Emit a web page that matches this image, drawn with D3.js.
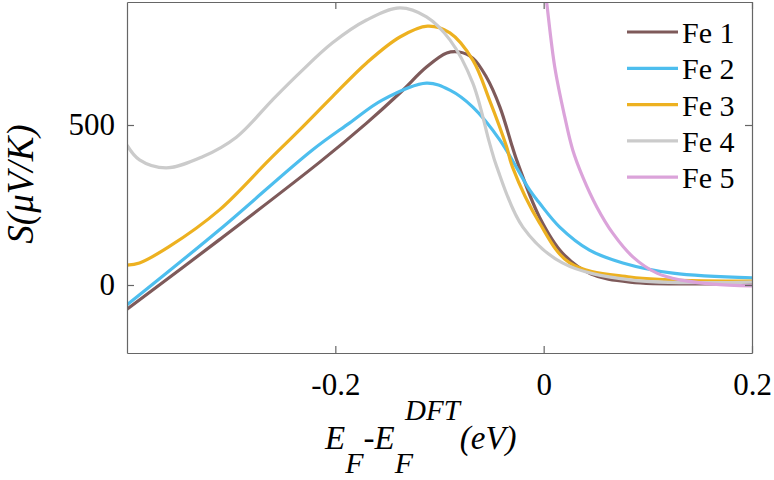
<!DOCTYPE html>
<html>
<head>
<meta charset="utf-8">
<script src="https://cdn.jsdelivr.net/npm/d3@7"></script>
<style>
  body { margin: 0; background: #fff; }
</style>
</head>
<body>
<div id="canvas"></div>
<script>
// [E - E_F^DFT (eV), S (uV/K)]
const fe1 = [[-0.40, -76], [-0.3115, 141], [-0.215, 384], [-0.170, 506], [-0.138, 600], [-0.1125, 681],
  [-0.093, 725], [-0.081, 728], [-0.068, 709], [-0.055, 650], [-0.042, 556], [-0.030, 431],
  [-0.026, 391], [-0.004, 212], [0.018, 100], [0.045, 35], [0.083, 9], [0.20, 6]];
const fe2 = [[-0.40, -62], [-0.3115, 172], [-0.222, 422], [-0.1865, 506], [-0.155, 578], [-0.1125, 631],
  [-0.090, 609], [-0.068, 556], [-0.042, 453], [-0.0135, 297], [-0.004, 256], [0.0154, 181],
  [0.044, 109], [0.076, 69], [0.124, 37], [0.20, 22]];
const fe3 = [[-0.40, 62], [-0.388, 69], [-0.36, 119], [-0.3115, 234], [-0.2635, 391], [-0.2345, 484],
  [-0.203, 588], [-0.170, 694], [-0.138, 775], [-0.1115, 809], [-0.090, 788], [-0.068, 703],
  [-0.052, 578], [-0.0355, 431], [-0.030, 369], [-0.004, 194], [0.025, 69], [0.083, 25], [0.20, 12]];
const fe4 = [[-0.40, 437], [-0.388, 391], [-0.3625, 366], [-0.328, 400], [-0.295, 462], [-0.2605, 578],
  [-0.2345, 662], [-0.203, 756], [-0.170, 828], [-0.138, 866], [-0.1125, 838], [-0.090, 766],
  [-0.068, 631], [-0.052, 444], [-0.045, 369], [-0.020, 181], [0.018, 69], [0.083, 16], [0.20, 9]];
const fe5 = [[0.0, 960], [0.0026, 891], [0.0106, 682], [0.0202, 526], [0.0279, 422], [0.0375, 338],
  [0.051, 244], [0.0663, 162], [0.0856, 88], [0.1087, 37], [0.1308, 16], [0.1625, 3], [0.20, -3]];

const names = ['Fe 1', 'Fe 2', 'Fe 3', 'Fe 4', 'Fe 5'];
const colors = ['#7e5a5a', '#4dbeee', '#edb120', '#cbcbcb', '#dba3da'];
const xTicks = [-0.2, 0, 0.2];
const yTicks = [0, 500];

const W = 774, H = 480;
const serif = '"Liberation Serif"';
const x = d3.scaleLinear().domain([-0.4, 0.2]).range([127, 752]);
const y = d3.scaleLinear().domain([-212.5, 884.4]).range([353, 2]);

const svg = d3.select('#canvas')
  .append('svg')
  .attr('width', W)
  .attr('height', H);

svg.append('clipPath').attr('id', 'clip')
  .append('rect')
  .attr('x', 127).attr('y', 2)
  .attr('width', 752 - 127).attr('height', 353 - 2);

const line = d3.line()
  .x((d) => x(d[0]))
  .y((d) => y(d[1]))
  .curve(d3.curveCatmullRom.alpha(0.5));

svg.append('g')
  .attr('clip-path', 'url(#clip)')
  .selectAll('path')
  .data([fe1, fe2, fe3, fe4, fe5])
  .join('path')
  .attr('d', line)
  .attr('fill', 'none')
  .attr('stroke', (d, i) => colors[i])
  .attr('stroke-width', 3.2)
  .attr('stroke-linejoin', 'round');

// box with inward ticks on all sides
const axisColor = '#666';
const tickLen = 7;
const axBottom = svg.append('g').attr('transform', `translate(0,353)`)
  .call(d3.axisBottom(x).tickValues(xTicks).tickSizeInner(-tickLen).tickSizeOuter(0).tickPadding(20)
    .tickFormat((d) => String(d)));
const axTop = svg.append('g').attr('transform', `translate(0,2)`)
  .call(d3.axisTop(x).tickValues(xTicks).tickSizeInner(-tickLen).tickSizeOuter(0).tickFormat(''));
const axLeft = svg.append('g').attr('transform', `translate(127,0)`)
  .call(d3.axisLeft(y).tickValues(yTicks).tickSizeInner(-tickLen).tickSizeOuter(0).tickPadding(12)
    .tickFormat((d) => String(d)));
const axRight = svg.append('g').attr('transform', `translate(752,0)`)
  .call(d3.axisRight(y).tickValues(yTicks).tickSizeInner(-tickLen).tickSizeOuter(0).tickFormat(''));

[axBottom, axTop, axLeft, axRight].forEach((g) => {
  g.attr('font-family', null).attr('font-size', null);
  g.selectAll('.domain').attr('stroke', axisColor).attr('stroke-width', 1.2);
  g.selectAll('.tick line').attr('stroke', axisColor).attr('stroke-width', 1.2);
  g.selectAll('.tick text')
    .attr('fill', '#000')
    .style('font-family', serif)
    .style('font-size', '31px');
});

// axis labels
svg.append('text')
  .attr('transform', 'translate(33,184) rotate(-90)')
  .attr('text-anchor', 'middle')
  .style('font-family', serif)
  .style('font-size', '37px')
  .style('font-style', 'italic')
  .text('S(\u03BCV/K)');

const xl = svg.append('text')
  .attr('x', 325)
  .attr('y', 449)
  .style('font-family', serif)
  .style('font-size', '33px')
  .style('font-style', 'italic');
xl.append('tspan').text('E');
xl.append('tspan').attr('dy', 24).style('font-size', '30px').text('F');
xl.append('tspan').attr('dy', -24).text('-E');
xl.append('tspan').attr('dy', 24).style('font-size', '30px').text('F');
xl.append('tspan').attr('dy', -53).attr('dx', -8).style('font-size', '29px').text('DFT');
xl.append('tspan').attr('dy', 29).text('(eV)');

// legend
const legend = svg.append('g');
const item = legend.selectAll('g')
  .data(names)
  .join('g')
  .attr('transform', (d, i) => `translate(0,${32 + i * 36.3})`);
item.append('line')
  .attr('x1', 627).attr('x2', 678)
  .attr('stroke', (d, i) => colors[i])
  .attr('stroke-width', 3.2);
item.append('text')
  .attr('x', 682)
  .attr('y', 11)
  .style('font-family', serif)
  .style('font-size', '30px')
  .text((d) => d);
</script>
</body>
</html>
